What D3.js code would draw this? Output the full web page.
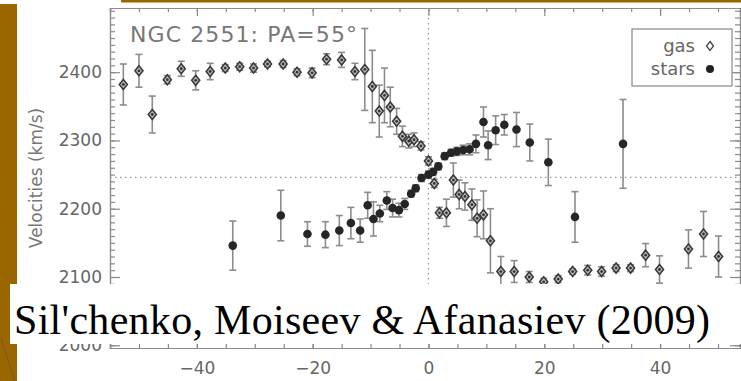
<!DOCTYPE html>
<html>
<head>
<meta charset="utf-8">
<script src="https://cdn.jsdelivr.net/npm/d3@7"></script>
<style>
  body { margin: 0; background: #fff; }
  svg { display: block; }
  .axis path, .axis line { stroke: #8a8a8a; stroke-width: 1.2; }
  .axis text { fill: #666; font-family: "DejaVu Sans", sans-serif; font-size: 17px; }
  .cite { font-family: "Liberation Serif", "Times New Roman", Times, serif; font-size: 42px; fill: #000; }
</style>
</head>
<body>
<div id="chart"></div>
<script>
// gas (open diamonds): radius in arcsec, velocity km/s, error
const gasR = [-52.7, -50.0, -47.7, -45.1, -42.7, -40.2, -37.7, -35.1, -32.6, -30.2, -27.8, -25.1, -22.7, -20.1,
  -17.6, -15.0, -12.7, -11.0, -9.7, -8.5, -7.6, -6.6, -5.5, -4.5, -3.4, -2.5, -1.3, 0.0, 1.0, 1.9, 3.1, 4.3, 5.3,
  6.3, 7.5, 8.4, 9.5, 10.7, 12.5, 14.8, 17.4, 19.9, 22.4, 24.9, 27.5, 29.9, 32.4, 34.9, 37.5, 39.9, 44.9, 47.5, 50.1];
const gasV = [2382, 2402, 2338, 2389, 2405, 2388, 2401, 2406, 2408, 2406, 2412, 2412, 2400, 2399,
  2419, 2418, 2401, 2404, 2379, 2343, 2366, 2349, 2328, 2306, 2299, 2301, 2292, 2270, 2237, 2194, 2194, 2242, 2221,
  2218, 2206, 2186, 2191, 2153, 2108, 2108, 2100, 2093, 2097, 2108, 2110, 2108, 2113, 2113, 2132, 2111, 2141, 2163, 2130];
const gasE = [30, 24, 27, 6, 11, 14, 12, 5, 5, 6, 4, 5, 5, 7,
  8, 11, 12, 60, 53, 38, 40, 29, 19, 15, 10, 10, 6, 6, 6, 8, 20, 25, 21,
  20, 23, 27, 35, 47, 22, 16, 8, 5, 5, 4, 7, 7, 5, 5, 17, 20, 28, 33, 30];

// stars (filled circles)
const starR = [-33.8, -25.5, -20.9, -17.8, -15.4, -13.4, -11.8, -10.5, -9.5, -8.4, -7.2, -6.2, -5.1, -4.1, -3.0,
  -2.2, -1.2, 0.0, 0.8, 1.7, 2.8, 3.9, 4.9, 6.0, 7.1, 8.2, 9.5, 10.3, 11.6, 13.1, 15.2, 17.5, 20.7, 25.3, 33.6];
const starV = [2146, 2190, 2163, 2162, 2168, 2179, 2168, 2205, 2185, 2193, 2212, 2201, 2198, 2207, 2222,
  2230, 2245, 2250, 2254, 2262, 2277, 2282, 2284, 2286, 2287, 2295, 2327, 2293, 2315, 2323, 2316, 2297, 2268, 2188, 2295];
const starE = [36, 37, 18, 19, 22, 23, 17, 19, 25, 12, 13, 13, 10, 8, 5,
  5, 5, 5, 5, 5, 5, 5, 6, 7, 8, 13, 22, 21, 21, 15, 25, 27, 34, 37, 65];

const xTicks = [-40, -20, 0, 20, 40];
const yTicks = [2000, 2100, 2200, 2300, 2400];
const systemicV = 2246;

const W = 741, H = 381;
const svg = d3.select('#chart').append('svg').attr('width', W).attr('height', H);

// slide decoration
svg.append('rect').attr('x', 0).attr('y', 4).attr('width', 17).attr('height', H - 4).attr('fill', '#996600');
svg.append('rect').attr('x', 121).attr('y', 0).attr('width', W - 121).attr('height', 2.5).attr('fill', '#996600');
svg.append('line').attr('x1', 1).attr('y1', 338).attr('x2', 15).attr('y2', 381)
  .attr('stroke', '#7a5a2a').attr('stroke-width', 1);

const pLeft = 110, pRight = 740, pTop = 8, pBottom = 348;
const x = d3.scaleLinear().domain([-55, 53.8]).range([pLeft, pRight]);
const y = d3.scaleLinear().domain([1996, 2494]).range([pBottom, pTop]);

// frame axes
const g = svg.append('g');
g.append('g').attr('class', 'axis').attr('transform', `translate(0,${pBottom})`)
  .call(d3.axisBottom(x).tickValues(xTicks).tickSize(-8).tickPadding(14).tickFormat(d => String(d).replace('-', '−')));
g.append('g').attr('class', 'axis').attr('transform', `translate(0,${pBottom})`)
  .call(d3.axisBottom(x).tickValues(d3.range(-55, 54, 5)).tickSize(-4).tickFormat(''));
g.append('g').attr('class', 'axis').attr('transform', `translate(0,${pTop})`)
  .call(d3.axisTop(x).tickValues(xTicks).tickSize(-8).tickFormat(''));
g.append('g').attr('class', 'axis').attr('transform', `translate(0,${pTop})`)
  .call(d3.axisTop(x).tickValues(d3.range(-55, 54, 5)).tickSize(-4).tickFormat(''));
g.append('g').attr('class', 'axis').attr('transform', `translate(${pLeft},0)`)
  .call(d3.axisLeft(y).tickValues(yTicks).tickSize(-10).tickPadding(8).tickFormat(d3.format('d')));
g.append('g').attr('class', 'axis').attr('transform', `translate(${pLeft},0)`)
  .call(d3.axisLeft(y).tickValues(d3.range(2000, 2491, 10)).tickSize(-5).tickFormat(''));
g.append('g').attr('class', 'axis').attr('transform', `translate(${pRight},0)`)
  .call(d3.axisRight(y).tickValues(yTicks).tickSize(-10).tickFormat(''));
g.append('g').attr('class', 'axis').attr('transform', `translate(${pRight},0)`)
  .call(d3.axisRight(y).tickValues(d3.range(2000, 2491, 10)).tickSize(-5).tickFormat(''));

// dotted reference lines
g.append('line').attr('x1', pLeft).attr('x2', pRight).attr('y1', y(systemicV)).attr('y2', y(systemicV))
  .attr('stroke', '#999').attr('stroke-width', 1.2).attr('stroke-dasharray', '1.5,3.5');
g.append('line').attr('x1', x(0)).attr('x2', x(0)).attr('y1', pTop).attr('y2', pBottom)
  .attr('stroke', '#999').attr('stroke-width', 1.2).attr('stroke-dasharray', '1.5,3.5');

// axis title and label
svg.append('text').attr('transform', 'translate(42,178) rotate(-90)').attr('text-anchor', 'middle')
  .attr('fill', '#777').style('font-family', '"DejaVu Sans", sans-serif').style('font-size', '17px')
  .text('Velocities (km/s)');
svg.append('text').attr('x', 130).attr('y', 42).attr('textLength', 227).attr('lengthAdjust', 'spacing')
  .attr('fill', '#777').style('font-family', '"DejaVu Sans", sans-serif').style('font-size', '22px')
  .text('NGC 2551: PA=55°');

// error bars
function errorBars(rs, vs, es) {
  const eg = g.append('g').attr('stroke', '#8c8c8c').attr('stroke-width', 1.6);
  rs.forEach((r, i) => {
    const cx = x(r), y1 = y(vs[i] + es[i]), y2 = y(vs[i] - es[i]);
    eg.append('line').attr('x1', cx).attr('x2', cx).attr('y1', y1).attr('y2', y2);
    eg.append('line').attr('x1', cx - 3.5).attr('x2', cx + 3.5).attr('y1', y1).attr('y2', y1);
    eg.append('line').attr('x1', cx - 3.5).attr('x2', cx + 3.5).attr('y1', y2).attr('y2', y2);
  });
}
errorBars(gasR, gasV, gasE);
errorBars(starR, starV, starE);

const diamond = 'M0,-5L4,0L0,5L-4,0Z';
function drawGas(sel, cx, cy) {
  sel.append('path').attr('d', diamond).attr('transform', `translate(${cx},${cy})`)
    .attr('fill', '#bbb').attr('stroke', '#3a3a3a').attr('stroke-width', 1.6);
  sel.append('circle').attr('cx', cx).attr('cy', cy).attr('r', 1.4).attr('fill', '#333');
}
const gg = g.append('g');
gasR.forEach((r, i) => drawGas(gg, x(r), y(gasV[i])));
g.append('g').selectAll('circle').data(starR).join('circle')
  .attr('cx', d => x(d)).attr('cy', (d, i) => y(starV[i])).attr('r', 4.3).attr('fill', '#262626');

// legend
const lg = svg.append('g');
lg.append('rect').attr('x', 632).attr('y', 29).attr('width', 100).attr('height', 57)
  .attr('fill', '#fff').attr('stroke', '#888').attr('stroke-width', 1.2);
lg.append('text').attr('x', 695).attr('y', 52).attr('text-anchor', 'end').attr('fill', '#666')
  .style('font-family', '"DejaVu Sans", sans-serif').style('font-size', '18px').text('gas');
lg.append('text').attr('x', 695).attr('y', 75).attr('text-anchor', 'end').attr('fill', '#666')
  .style('font-family', '"DejaVu Sans", sans-serif').style('font-size', '18px').text('stars');
lg.append('path').attr('d', 'M0,-4.5L3.5,0L0,4.5L-3.5,0Z').attr('transform', 'translate(710,46)')
  .attr('fill', 'none').attr('stroke', '#444').attr('stroke-width', 1.3);
lg.append('circle').attr('cx', 710).attr('cy', 69).attr('r', 4).attr('fill', '#222');

// citation overlay
svg.append('rect').attr('x', 10).attr('y', 284).attr('width', W - 10).attr('height', 60).attr('fill', '#fff');
svg.append('text').attr('class', 'cite').attr('x', 14).attr('y', 334)
  .attr('textLength', 696).attr('lengthAdjust', 'spacing')
  .text("Sil'chenko, Moiseev & Afanasiev (2009)");
</script>
</body>
</html>
